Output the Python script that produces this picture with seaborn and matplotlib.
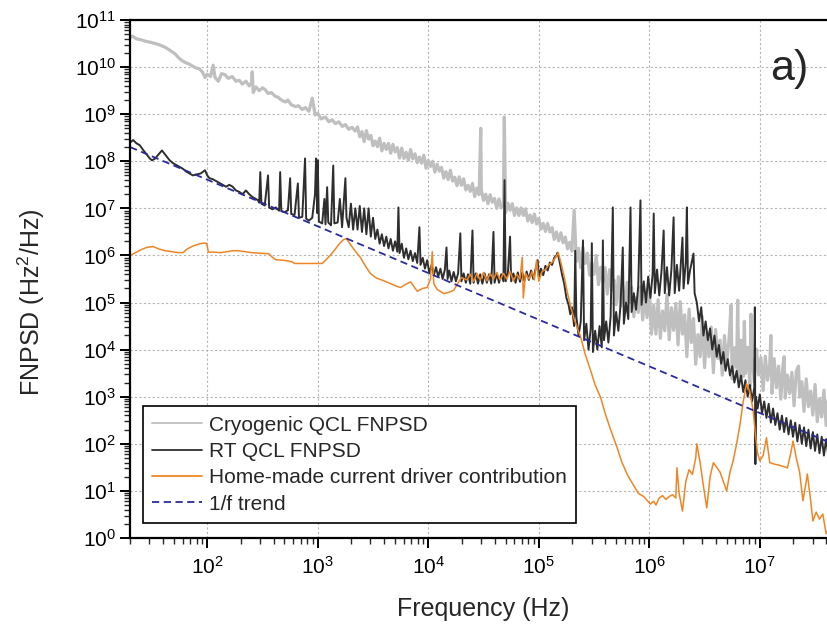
import numpy as np
import pandas as pd
import matplotlib
matplotlib.use("Agg")
import matplotlib.pyplot as plt
import seaborn as sns
from matplotlib.ticker import FixedLocator, LogLocator, NullFormatter

# ---------------- data (log10 units) ----------------
# each pair: (log10 frequency [Hz], log10 FNPSD [Hz^2/Hz])
cryo_points = [
    (1.303, 10.62), (1.32, 10.66), (1.36, 10.60), (1.40, 10.58), (1.44, 10.55), (1.48, 10.53),
    (1.53, 10.50), (1.57, 10.47), (1.62, 10.42), (1.66, 10.36), (1.71, 10.28), (1.74, 10.20),
    (1.77, 10.14), (1.80, 10.10), (1.84, 10.06), (1.86, 10.03), (1.90, 9.98), (1.93, 9.96),
    (1.955, 9.90), (1.98, 9.78), (2.00, 9.85), (2.03, 9.80), (2.054, 10.04), (2.07, 9.78),
    (2.10, 9.70), (2.13, 9.86), (2.16, 9.84), (2.19, 9.76), (2.226, 9.80), (2.26, 9.70),
    (2.29, 9.72), (2.317, 9.64), (2.35, 9.70), (2.38, 9.60), (2.40, 9.66), (2.407, 9.90),
    (2.416, 9.46), (2.44, 9.58), (2.47, 9.50), (2.50, 9.56), (2.525, 9.52), (2.55, 9.44),
    (2.58, 9.46), (2.615, 9.38), (2.64, 9.36), (2.67, 9.30), (2.706, 9.26), (2.73, 9.30),
    (2.76, 9.20), (2.80, 9.16), (2.824, 9.18), (2.86, 9.10), (2.89, 9.14), (2.92, 9.06),
    (2.95, 9.34), (2.977, 8.98), (3.00, 9.02), (3.03, 8.90), (3.068, 8.94), (3.10, 8.84),
    (3.13, 8.88), (3.16, 8.80), (3.19, 8.84), (3.222, 8.74), (3.25, 8.78), (3.28, 8.68),
    (3.31, 8.72), (3.339, 8.64),
    (3.36, 8.73), (3.38, 8.52), (3.40, 8.63), (3.42, 8.42), (3.44, 8.65), (3.46, 8.47),
    (3.48, 8.55), (3.50, 8.33), (3.52, 8.43), (3.54, 8.31), (3.56, 8.49), (3.58, 8.22),
    (3.60, 8.38), (3.62, 8.25), (3.64, 8.38), (3.66, 8.17), (3.68, 8.36), (3.70, 8.20),
    (3.72, 8.29), (3.74, 8.07), (3.76, 8.28), (3.78, 8.06), (3.80, 8.19), (3.82, 8.02),
    (3.84, 8.25), (3.86, 8.05), (3.88, 8.16), (3.90, 7.97), (3.92, 8.09), (3.94, 7.96),
    (3.96, 8.13), (3.98, 7.85), (4.00, 8.02), (4.02, 7.89), (4.04, 8.00), (4.06, 7.77),
    (4.08, 7.94), (4.10, 7.79), (4.12, 7.87), (4.14, 7.64), (4.16, 7.78), (4.18, 7.61),
    (4.20, 7.81), (4.22, 7.58), (4.24, 7.66), (4.26, 7.48), (4.28, 7.67), (4.30, 7.49),
    (4.32, 7.63), (4.34, 7.39), (4.36, 7.49), (4.38, 7.36), (4.40, 7.53), (4.42, 7.25),
    (4.44, 7.43), (4.46, 7.29), (4.475, 8.70), (4.48, 7.39), (4.50, 7.17), (4.52, 7.30),
    (4.54, 7.10), (4.56, 7.29), (4.58, 7.13), (4.60, 7.21), (4.62, 7.00), (4.64, 7.20),
    (4.66, 7.01), (4.68, 7.09), (4.688, 8.94), (4.70, 6.91), (4.72, 7.11), (4.74, 6.96),
    (4.76, 7.10), (4.78, 6.85), (4.80, 7.01), (4.82, 6.85), (4.84, 7.01), (4.86, 6.85),
    (4.88, 6.99), (4.90, 6.73), (4.92, 6.86), (4.94, 6.70), (4.96, 6.88), (4.98, 6.67),
    (5.00, 6.79), (5.02, 6.56), (5.04, 6.68), (5.06, 6.51), (5.08, 6.68), (5.10, 6.50),
    (5.12, 6.59), (5.14, 6.34), (5.16, 6.50), (5.18, 6.31), (5.20, 6.48), (5.22, 6.27),
    (5.24, 6.39), (5.26, 6.14), (5.28, 6.28), (5.30, 6.09),
    (5.32, 6.96), (5.34, 5.87), (5.36, 6.15), (5.38, 5.74), (5.40, 6.17), (5.42, 5.83),
    (5.44, 6.05), (5.46, 5.58), (5.48, 5.84), (5.50, 5.60), (5.52, 6.00), (5.54, 5.38),
    (5.56, 5.75), (5.58, 5.43), (5.60, 5.74), (5.62, 5.18), (5.64, 5.70), (5.66, 5.26),
    (5.68, 5.48), (5.70, 4.95), (5.72, 5.55), (5.74, 4.92), (5.76, 5.36), (5.78, 4.80),
    (5.80, 5.43), (5.82, 5.00), (5.84, 5.33), (5.86, 4.70), (5.88, 5.10), (5.90, 4.79),
    (5.92, 5.33), (5.94, 4.63), (5.96, 5.15), (5.98, 4.68), (6.00, 5.30), (6.02, 4.33),
    (6.04, 4.95), (6.06, 4.33), (6.08, 5.06), (6.10, 4.24), (6.12, 4.82), (6.14, 4.40),
    (6.16, 5.18), (6.18, 4.21), (6.20, 4.89), (6.22, 4.41), (6.24, 4.98), (6.26, 4.10),
    (6.28, 5.02), (6.30, 4.33), (6.32, 4.74), (6.34, 3.85), (6.36, 4.86), (6.38, 4.15),
    (6.40, 4.66), (6.42, 3.69), (6.44, 4.32), (6.46, 3.85), (6.48, 4.70), (6.50, 3.62),
    (6.52, 4.37), (6.54, 3.85), (6.56, 4.48), (6.58, 3.51), (6.60, 4.43), (6.62, 3.81),
    (6.64, 4.20), (6.66, 3.46), (6.68, 4.30), (6.70, 3.73), (6.72, 4.17), (6.74, 4.95),
    (6.75, 3.38), (6.77, 4.04), (6.79, 3.61), (6.80, 5.05), (6.81, 3.37), (6.83, 4.20),
    (6.85, 3.43), (6.86, 4.60), (6.87, 3.49), (6.89, 4.05), (6.91, 3.22), (6.92, 4.75),
    (6.93, 3.85), (6.95, 3.31), (6.97, 4.01), (6.99, 3.46), (7.01, 3.83), (7.03, 3.13),
    (7.05, 3.86), (7.07, 3.35), (7.09, 3.69), (7.10, 4.30), (7.11, 3.07), (7.13, 3.81),
    (7.15, 3.19), (7.17, 3.65), (7.19, 2.95), (7.21, 3.68), (7.22, 3.85), (7.23, 2.97),
    (7.25, 3.46), (7.27, 3.07), (7.29, 3.52), (7.31, 2.81), (7.33, 3.54), (7.35, 3.65),
    (7.36, 2.99), (7.38, 3.32), (7.40, 2.69), (7.42, 3.38), (7.44, 2.79), (7.46, 3.12),
    (7.48, 2.61), (7.50, 3.26), (7.52, 2.47), (7.54, 2.96), (7.56, 2.57), (7.58, 3.14),
    (7.60, 2.39), (7.62, 3.02), (7.64, 2.49), (7.66, 2.76),
]

rt_points = [
    (1.303, 8.40), (1.33, 8.45), (1.36, 8.38), (1.39, 8.34), (1.42, 8.24), (1.45, 8.15),
    (1.48, 8.06), (1.50, 8.02), (1.53, 8.06), (1.55, 8.12), (1.59, 8.23), (1.62, 8.14),
    (1.66, 8.02), (1.69, 7.96), (1.72, 7.92), (1.75, 7.88), (1.78, 7.84), (1.81, 7.78),
    (1.84, 7.74), (1.87, 7.70), (1.90, 7.72), (1.94, 7.74), (1.98, 7.81), (2.00, 7.70),
    (2.02, 7.64), (2.05, 7.62), (2.08, 7.58), (2.11, 7.54), (2.14, 7.50), (2.17, 7.46),
    (2.20, 7.50), (2.23, 7.46), (2.26, 7.38), (2.29, 7.35), (2.32, 7.30), (2.35, 7.38),
    (2.38, 7.30), (2.41, 7.24), (2.44, 7.20), (2.46, 7.17),
    (2.47, 7.12), (2.48, 7.77), (2.49, 7.10), (2.52, 7.06), (2.55, 7.70), (2.56, 7.02),
    (2.59, 6.98), (2.62, 7.02), (2.65, 6.95), (2.66, 7.77), (2.67, 6.94), (2.70, 6.92),
    (2.73, 6.96), (2.75, 7.64), (2.76, 6.88), (2.79, 6.86), (2.82, 7.53), (2.83, 6.80),
    (2.86, 6.82), (2.885, 8.06), (2.895, 6.78), (2.92, 6.74), (2.95, 6.80), (2.975, 7.30),
    (2.985, 8.06), (2.995, 6.90), (3.00, 8.02), (3.01, 6.72), (3.04, 6.68), (3.06, 7.20),
    (3.07, 6.66), (3.085, 7.45), (3.095, 6.70), (3.12, 6.64), (3.14, 7.91), (3.15, 6.68),
    (3.18, 6.70), (3.20, 7.20), (3.22, 6.60), (3.25, 7.64), (3.26, 6.80), (3.28, 6.60),
    (3.30, 7.10), (3.32, 6.55), (3.34, 7.00), (3.36, 6.55), (3.38, 7.05), (3.40, 6.50),
    (3.42, 7.00), (3.44, 6.45), (3.46, 7.00), (3.48, 6.40), (3.50, 6.80),
    (3.52, 6.35), (3.54, 6.55), (3.56, 6.25), (3.58, 6.45), (3.60, 6.20), (3.62, 6.40),
    (3.64, 6.15), (3.66, 6.35), (3.68, 6.10), (3.70, 6.30), (3.72, 6.08), (3.73, 7.02),
    (3.74, 6.05), (3.76, 6.25), (3.78, 5.95), (3.80, 6.15), (3.82, 5.92), (3.84, 6.10),
    (3.86, 5.88), (3.88, 6.05), (3.90, 5.84), (3.92, 6.60), (3.93, 5.80), (3.95, 5.95),
    (3.97, 5.72), (3.99, 5.90), (4.01, 5.62), (4.03, 5.80), (4.05, 5.58), (4.07, 5.75),
    (4.09, 5.55), (4.11, 5.72), (4.13, 5.50), (4.15, 5.70), (4.165, 6.17), (4.175, 5.50),
    (4.19, 5.68), (4.21, 5.45), (4.23, 5.65), (4.25, 5.45), (4.27, 5.62), (4.29, 6.47),
    (4.30, 5.45), (4.32, 5.62), (4.34, 5.42), (4.36, 5.60), (4.38, 5.40), (4.40, 6.53),
    (4.41, 5.42), (4.43, 5.62), (4.45, 5.40), (4.47, 5.60), (4.49, 5.40), (4.51, 5.62),
    (4.53, 5.42), (4.55, 5.60), (4.57, 5.40), (4.59, 6.50), (4.60, 5.42), (4.62, 5.62),
    (4.64, 5.42), (4.66, 5.60), (4.68, 5.45), (4.69, 7.60), (4.70, 5.45), (4.72, 5.62),
    (4.74, 6.40), (4.75, 5.45), (4.77, 5.62), (4.79, 5.42), (4.81, 5.64), (4.83, 5.44),
    (4.85, 5.64), (4.87, 5.46), (4.89, 5.66), (4.91, 5.48), (4.93, 5.68), (4.95, 5.50),
    (4.97, 5.70), (4.99, 5.90), (5.00, 5.55), (5.02, 5.72), (5.04, 5.58), (5.06, 5.78),
    (5.08, 5.68), (5.10, 5.85), (5.12, 5.80), (5.14, 5.95), (5.16, 6.00), (5.17, 6.06),
    (5.19, 5.85), (5.21, 5.60), (5.23, 5.40), (5.25, 5.10), (5.27, 4.95), (5.285, 4.75),
    (5.30, 4.90), (5.32, 4.50), (5.33, 6.10), (5.34, 4.70), (5.36, 4.30), (5.38, 4.60),
    (5.40, 6.32), (5.41, 4.20), (5.43, 4.55), (5.45, 4.00), (5.47, 4.45), (5.48, 6.26),
    (5.49, 3.95), (5.51, 4.40), (5.53, 4.00), (5.55, 4.50), (5.57, 4.05), (5.58, 6.32),
    (5.59, 4.20), (5.61, 4.60), (5.63, 4.15), (5.65, 4.70), (5.67, 7.02), (5.68, 4.30),
    (5.70, 4.80), (5.72, 4.40), (5.74, 4.95), (5.76, 6.17), (5.77, 4.55), (5.79, 5.00),
    (5.81, 4.65), (5.83, 7.02), (5.84, 4.80), (5.86, 5.20), (5.88, 4.85), (5.90, 5.35),
    (5.92, 7.17), (5.93, 4.95), (5.95, 5.45), (5.97, 5.00), (5.99, 5.55), (6.01, 5.10),
    (6.03, 5.60), (6.04, 6.89), (6.05, 5.20), (6.07, 5.70), (6.09, 5.15), (6.11, 5.65),
    (6.13, 6.53), (6.14, 5.20), (6.16, 5.75), (6.18, 5.15), (6.20, 5.70), (6.22, 6.81),
    (6.23, 5.20), (6.25, 5.80), (6.27, 5.25), (6.30, 6.38), (6.31, 5.30), (6.33, 5.85),
    (6.34, 7.02), (6.35, 5.40), (6.37, 5.70), (6.40, 6.04), (6.41, 5.20), (6.43, 5.00),
    (6.45, 4.60), (6.47, 4.90), (6.49, 4.30), (6.51, 4.60), (6.53, 4.20), (6.55, 4.45),
    (6.57, 4.00), (6.59, 4.30), (6.61, 3.85), (6.63, 4.10), (6.65, 3.70), (6.67, 3.95),
    (6.69, 3.55), (6.71, 3.80), (6.73, 3.45), (6.75, 3.65), (6.77, 3.30), (6.79, 3.55),
    (6.81, 3.20), (6.83, 3.45), (6.85, 3.10), (6.87, 3.35), (6.89, 3.00), (6.91, 3.25),
    (6.93, 2.90), (6.95, 3.20), (6.955, 4.90), (6.96, 1.57), (6.965, 3.00), (6.98, 2.75),
    (7.00, 3.05), (7.02, 2.65), (7.04, 2.90), (7.06, 2.55), (7.08, 2.85), (7.10, 2.45),
    (7.12, 2.75), (7.14, 2.40), (7.16, 2.65), (7.18, 2.30), (7.20, 2.60), (7.22, 2.25),
    (7.24, 2.55), (7.26, 2.20), (7.28, 2.50), (7.30, 2.15), (7.32, 2.45), (7.34, 2.05),
    (7.36, 2.40), (7.38, 2.00), (7.40, 2.35), (7.42, 1.95), (7.44, 2.30), (7.46, 1.90),
    (7.48, 2.25), (7.50, 1.85), (7.52, 2.20), (7.54, 1.80), (7.56, 2.15), (7.58, 1.75),
    (7.60, 2.10), (7.62, 1.75), (7.64, 2.05), (7.66, 1.75),
]

driver_points = [
    (1.303, 6.00), (1.35, 6.06), (1.40, 6.12), (1.45, 6.17), (1.51, 6.19), (1.56, 6.14),
    (1.62, 6.10), (1.68, 6.08), (1.74, 6.06), (1.78, 6.06), (1.82, 6.14), (1.87, 6.20),
    (1.92, 6.24), (1.96, 6.26), (1.99, 6.26), (2.00, 6.20), (2.01, 6.07), (2.06, 6.07),
    (2.12, 6.06), (2.18, 6.08), (2.23, 6.10), (2.28, 6.10), (2.34, 6.08), (2.40, 6.06),
    (2.46, 6.05), (2.52, 6.04), (2.555, 6.04), (2.59, 5.96), (2.62, 5.91), (2.68, 5.90),
    (2.74, 5.88), (2.77, 5.86), (2.79, 5.83), (2.85, 5.83), (2.92, 5.83), (2.98, 5.83),
    (3.04, 5.83), (3.08, 5.92), (3.12, 6.02), (3.16, 6.14), (3.20, 6.26), (3.23, 6.33),
    (3.26, 6.36), (3.29, 6.25), (3.33, 6.12), (3.385, 5.96), (3.43, 5.78), (3.475, 5.62),
    (3.53, 5.52), (3.59, 5.47), (3.66, 5.40), (3.72, 5.34), (3.75, 5.32), (3.79, 5.38),
    (3.84, 5.44), (3.87, 5.34), (3.90, 5.24), (3.95, 5.30), (3.99, 5.32), (4.02, 5.50),
    (4.036, 6.08), (4.05, 5.40), (4.08, 5.28), (4.14, 5.19), (4.19, 5.22), (4.23, 5.26),
    (4.27, 5.42), (4.30, 5.53), (4.35, 5.48),
    (4.38, 5.60), (4.41, 5.45), (4.44, 5.62), (4.47, 5.48), (4.50, 5.64), (4.53, 5.46),
    (4.56, 5.62), (4.59, 5.50), (4.62, 5.64), (4.65, 5.48), (4.68, 5.62), (4.71, 5.50),
    (4.74, 5.66), (4.77, 5.46), (4.80, 5.60), (4.83, 5.50), (4.85, 5.96), (4.86, 5.10),
    (4.88, 5.62), (4.91, 5.50), (4.94, 5.66), (4.96, 5.48), (4.98, 5.90), (5.00, 5.45),
    (5.03, 5.66), (5.06, 5.70), (5.09, 5.80), (5.12, 5.85), (5.15, 5.95), (5.176, 6.06),
    (5.20, 5.85), (5.23, 5.55), (5.26, 5.20), (5.29, 4.90), (5.32, 4.65), (5.35, 4.45),
    (5.38, 4.26), (5.42, 3.90), (5.47, 3.55), (5.51, 3.25), (5.56, 2.98), (5.60, 2.65),
    (5.65, 2.30), (5.71, 1.91), (5.75, 1.62), (5.80, 1.35), (5.85, 1.15), (5.90, 0.95),
    (5.95, 0.88), (5.98, 0.80), (6.01, 0.72), (6.04, 0.78), (6.06, 0.70), (6.09, 0.85),
    (6.12, 0.90), (6.15, 0.82), (6.18, 0.88), (6.21, 0.92), (6.24, 0.85), (6.25, 1.49),
    (6.27, 0.95), (6.30, 0.57), (6.33, 1.20), (6.36, 1.45), (6.39, 1.35), (6.42, 1.70),
    (6.43, 2.00), (6.46, 1.60), (6.49, 1.10), (6.52, 0.64), (6.55, 1.30), (6.58, 1.60),
    (6.61, 1.50), (6.64, 1.40), (6.67, 1.20), (6.70, 1.00), (6.73, 1.40), (6.76, 1.65),
    (6.79, 2.00), (6.82, 2.40), (6.85, 2.90), (6.88, 3.28), (6.91, 3.10), (6.94, 2.70),
    (6.96, 2.20), (6.98, 1.80), (7.00, 1.64), (7.03, 1.75), (7.06, 2.13), (7.09, 1.60),
    (7.13, 1.57), (7.17, 1.55), (7.21, 1.52), (7.25, 1.49), (7.28, 1.80), (7.30, 2.06),
    (7.33, 1.70), (7.36, 1.40), (7.39, 0.79), (7.42, 1.20), (7.43, 1.36), (7.46, 0.80),
    (7.48, 0.36), (7.51, 0.55), (7.54, 0.40), (7.57, 0.51), (7.60, 0.09), (7.63, 0.25),
    (7.66, 0.10),
]

trend_points = [(1.303, 8.30), (7.66, 2.00)]

series_labels = ["Cryogenic QCL FNPSD", "RT QCL FNPSD",
                 "Home-made current driver contribution", "1/f trend"]
series_colors = ["#bfbfbf", "#2e2e2e", "#ef8626", "#2b2b9e"]

x_major_ticks = [1e2, 1e3, 1e4, 1e5, 1e6, 1e7]
y_major_ticks = [1e0, 1e1, 1e2, 1e3, 1e4, 1e5, 1e6, 1e7, 1e8, 1e9, 1e10, 1e11]


def to_frame(points):
    arr = np.array(points, dtype=float)
    return pd.DataFrame({"freq": 10 ** arr[:, 0], "psd": 10 ** arr[:, 1]})


# ---------------- style ----------------
sns.set_style("ticks")
plt.rcParams["font.family"] = ["Liberation Sans", "DejaVu Sans"]
plt.rcParams["mathtext.fontset"] = "custom"
plt.rcParams["mathtext.rm"] = "Liberation Sans"
plt.rcParams["mathtext.it"] = "Liberation Sans:italic"
plt.rcParams["mathtext.bf"] = "Liberation Sans:bold"

fig = plt.figure(figsize=(8.27, 6.24), dpi=100)
ax = fig.add_axes([130 / 827, 86 / 624, 702 / 827, 518 / 624])

frames = [to_frame(cryo_points), to_frame(rt_points),
          to_frame(driver_points), to_frame(trend_points)]
widths = [2.3, 1.4, 1.1, 1.3]

for i, (df, lab, col, lw) in enumerate(zip(frames, series_labels, series_colors, widths)):
    kw = {}
    if i == 3:
        kw["linestyle"] = (0, (4, 2.5))
    sns.lineplot(data=df, x="freq", y="psd", ax=ax, color=col, lw=lw, label=lab,
                 sort=False, estimator=None, **kw)

ax.set_xscale("log")
ax.set_yscale("log")
ax.set_xlim(20, 4.5e7)
ax.set_ylim(1, 1e11)

ax.xaxis.set_major_locator(FixedLocator(x_major_ticks))
ax.yaxis.set_major_locator(FixedLocator(y_major_ticks))
ax.xaxis.set_minor_locator(LogLocator(base=10, subs=np.arange(2, 10), numticks=200))
ax.yaxis.set_minor_locator(LogLocator(base=10, subs=np.arange(2, 10), numticks=200))
ax.xaxis.set_minor_formatter(NullFormatter())
ax.yaxis.set_minor_formatter(NullFormatter())

ax.grid(True, which="major", color="#b5b5b5", lw=0.8, ls=(0, (2, 2)))
ax.set_axisbelow(True)

for s in ["left", "bottom", "top"]:
    ax.spines[s].set_linewidth(1.6)
    ax.spines[s].set_color("black")
ax.spines["right"].set_visible(False)

ax.tick_params(axis="both", which="major", direction="out", length=7, width=1.4,
               labelsize=15, colors="black")
ax.tick_params(axis="both", which="minor", direction="out", length=4, width=1.0)
ax.tick_params(axis="x", which="major", pad=6)
ax.tick_params(axis="y", which="major", pad=3)

ax.set_xlabel("Frequency (Hz)", fontsize=18)
ax.set_ylabel(r"FNPSD (Hz$^2$/Hz)", fontsize=18)
ax.xaxis.set_label_coords(0.503, -0.114)
ax.yaxis.set_label_coords(-0.118, 0.456)

ax.text(0.939, 0.905, "a)", transform=ax.transAxes, fontsize=31,
        ha="center", va="center")

leg = ax.legend(loc="lower left", bbox_to_anchor=(0.0185, 0.029), borderaxespad=0,
                fontsize=15, frameon=True, fancybox=False, framealpha=1,
                edgecolor="black", handlelength=2.4, handletextpad=0.3,
                labelspacing=0.35, borderpad=0.45)
leg.get_frame().set_linewidth(1.2)
for h in leg.get_lines():
    h.set_linewidth(1.3)

fig.savefig("out.png", dpi=100)
